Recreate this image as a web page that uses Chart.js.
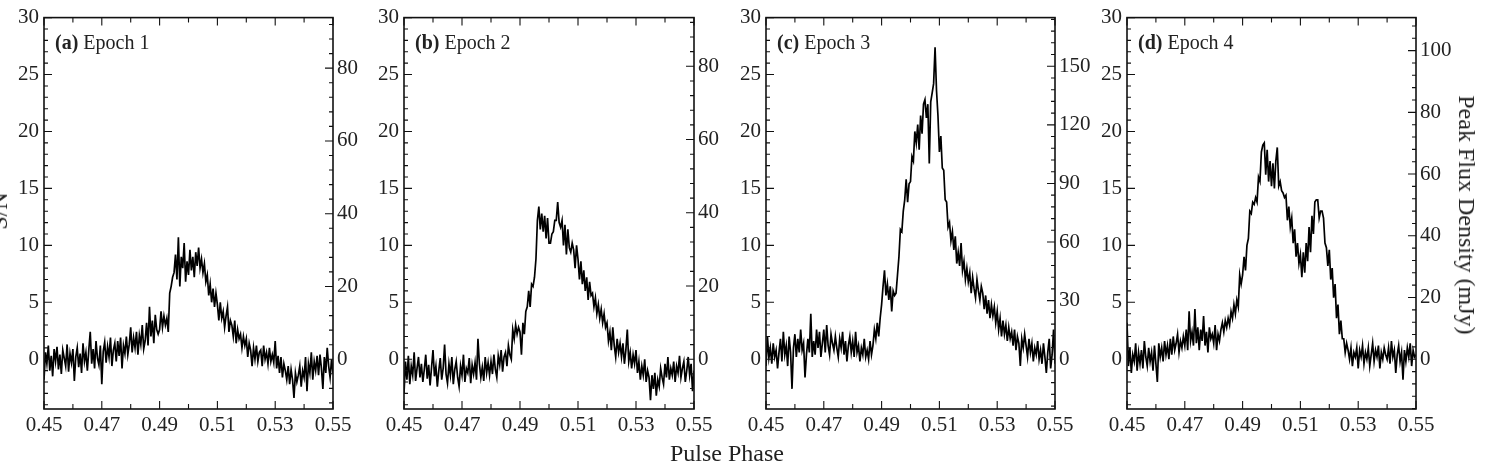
<!DOCTYPE html>
<html>
<head>
<meta charset="utf-8">
<script src="https://cdn.jsdelivr.net/npm/chart.js@4.4.1/dist/chart.umd.min.js"></script>
<style>
html,body{margin:0;padding:0;background:#fff;width:1494px;height:474px;overflow:hidden;}
#wrap{position:relative;width:1494px;height:474px;overflow:hidden;}
#wrap canvas{position:absolute;left:0;top:0;width:1494px;height:474px;}
.lbl{position:absolute;font-family:"Liberation Serif","Times New Roman",serif;color:#222;font-size:24px;line-height:24px;white-space:nowrap;}
</style>
</head>
<body>
<div id="wrap">
<canvas id="c0" width="1494" height="474"></canvas>
<canvas id="c1" width="1494" height="474"></canvas>
<canvas id="c2" width="1494" height="474"></canvas>
<canvas id="c3" width="1494" height="474"></canvas>
<div class="lbl" style="left:-1px;top:211px;transform:translate(-50%,-50%) rotate(-90deg);">S/N</div>
<div class="lbl" style="left:727px;top:441px;transform:translateX(-50%);">Pulse Phase</div>
<div class="lbl" style="left:1467px;top:215px;transform:translate(-50%,-50%) rotate(90deg);">Peak Flux Density (mJy)</div>
</div>
<script>
// ---------------- data ----------------
const PHASE_START = 0.45;
const PHASE_STEP = 0.0005;
const X_TICKS = [0.45, 0.47, 0.49, 0.51, 0.53, 0.55];
const SN_TICKS = [0, 5, 10, 15, 20, 25, 30];
const FLUX_TICKS_1 = [0, 20, 40, 60, 80];
const FLUX_TICKS_2 = [0, 20, 40, 60, 80];
const FLUX_TICKS_3 = [0, 30, 60, 90, 120, 150];
const FLUX_TICKS_4 = [0, 20, 40, 60, 80, 100];
const PANEL_LETTERS = ['(a)', '(b)', '(c)', '(d)'];
const PANEL_NAMES = ['Epoch 1', 'Epoch 2', 'Epoch 3', 'Epoch 4'];
const FLUX_PER_SN = [3.13, 3.11, 5.83, 3.69];

const SN_EPOCH1 = [
-1.8,0.6,-0.4,1.2,-1.0,0.3,-1.5,0.9,-0.2,1.1,
-0.9,0.4,-1.3,0.8,0.1,-0.6,1.3,-1.1,0.5,-0.3,
0.9,-1.9,0.2,1.0,-0.7,0.5,-1.2,1.4,-0.2,0.6,
-1.0,0.8,2.4,-0.4,0.9,-0.8,1.6,0.1,-0.5,1.2,
-2.2,0.7,1.5,-0.3,1.1,0.2,1.9,-0.6,0.8,1.4,
-0.2,1.6,0.3,1.9,-0.8,1.2,0.5,2.0,0.4,1.3,
2.8,0.6,1.9,1.0,2.4,0.4,2.1,1.3,3.0,0.9,
1.6,3.2,1.2,4.6,2.0,3.4,1.4,3.9,2.6,2.2,
2.6,4.2,2.8,3.8,3.0,3.6,2.4,5.8,6.4,7.2,
7.6,9.2,7.0,10.7,6.4,9.0,8.0,10.2,6.8,8.6,
7.4,9.6,7.8,9.0,7.2,9.4,8.2,9.8,8.0,8.8,
7.6,8.4,6.8,7.4,5.6,6.6,5.0,6.2,4.6,5.8,
4.8,3.4,5.0,3.6,4.2,2.8,3.8,4.6,2.4,3.4,
3.0,2.0,3.4,1.4,2.6,1.8,2.2,1.0,2.0,1.2,
1.8,0.2,1.4,0.8,-0.6,1.0,0.0,1.2,-0.2,0.6,
0.8,-0.6,1.2,0.0,0.6,-0.4,1.0,-0.2,0.4,-0.3,
1.6,-0.8,0.3,-1.2,0.2,-1.6,-0.4,-1.0,-1.8,-0.6,
-2.2,-0.9,-1.8,-3.4,-1.2,-2.0,-1.4,-0.6,-2.4,-1.0,
-1.6,0.2,-2.8,-0.4,-1.2,0.6,-1.8,-0.2,-1.0,0.3,
-1.4,0.4,-0.8,-2.6,0.2,-1.2,1.0,-0.6,-1.6,0.0,
-1.2];

const SN_EPOCH2 = [
-3.0,-0.2,-1.8,0.3,-2.2,-0.6,-1.4,0.6,-1.9,-0.8,
0.2,-1.6,-0.4,-2.0,-0.9,0.4,-1.7,-0.5,-2.3,-0.7,
0.8,-1.5,-0.6,-2.4,-1.0,0.1,-1.8,-0.8,1.3,-1.3,
-2.1,-0.4,-1.4,0.2,-2.2,-0.9,-0.2,-1.6,-2.4,-0.6,
-1.4,0.4,-2.0,-0.8,-1.2,0.1,-2.1,-0.5,-1.3,-0.3,
-1.8,1.8,-0.4,-1.6,-0.7,-1.9,0.2,-1.2,-0.3,-1.4,
-0.2,-1.3,0.4,-0.9,-1.6,0.3,-0.5,0.8,-1.1,0.2,
0.6,-0.6,1.2,0.4,0.0,2.6,1.8,3.0,2.2,2.8,
2.4,0.4,3.2,2.2,4.2,4.6,6.0,4.6,6.6,6.4,
7.2,8.8,12.2,13.4,11.4,12.8,11.2,12.6,10.6,12.4,
10.2,10.2,11.0,11.2,12.2,12.2,13.8,12.0,11.6,12.2,
10.0,11.8,9.2,11.4,9.8,9.4,10.2,9.6,8.0,10.0,
8.8,7.0,8.6,6.6,7.8,6.0,7.2,5.2,6.8,5.6,
5.8,4.6,5.4,4.0,4.8,3.6,4.4,3.2,4.0,2.8,
3.2,1.6,2.4,0.8,2.8,1.2,0.2,1.8,0.6,1.4,
0.2,1.4,-0.4,0.8,2.6,-0.2,0.6,-0.8,0.4,-0.4,
0.8,-1.2,-0.2,-1.8,-0.6,-1.4,0.0,-2.0,-1.0,-1.6,
-3.6,-1.4,-2.6,-1.2,-3.2,-1.8,-2.4,-0.8,-1.6,-2.2,
-0.4,-1.6,0.2,-1.8,-0.8,-1.4,-0.2,-2.0,-0.6,-1.2,
0.3,-1.6,-0.8,-0.2,-2.0,-1.0,0.2,-1.4,-0.4,-2.8,
-1.0];

const SN_EPOCH3 = [
-0.6,2.0,0.1,1.0,-0.4,1.4,0.2,0.8,-0.8,0.6,
1.8,-0.2,2.4,0.4,1.2,-0.6,2.0,0.6,-2.6,1.0,
2.2,0.2,1.8,0.6,2.6,0.8,1.4,-1.6,0.4,1.8,
0.6,4.0,0.2,1.6,0.4,2.6,1.0,2.4,0.2,1.4,
2.6,0.6,3.0,1.2,0.4,2.2,1.4,0.8,2.0,1.0,
0.2,1.8,1.0,2.4,0.4,1.6,-0.2,1.2,2.0,0.6,
1.6,0.2,2.4,0.6,1.2,-0.2,1.0,0.4,1.8,0.2,
0.8,0.0,1.6,0.4,1.2,2.6,1.8,3.2,2.0,3.6,
4.8,6.4,7.8,5.6,6.6,5.2,6.4,4.2,6.0,5.6,
5.8,7.4,9.0,11.4,11.2,13.0,14.0,15.8,13.8,15.4,
15.6,17.8,17.4,20.0,19.0,20.6,18.4,21.4,19.8,22.4,
22.8,21.2,22.4,17.2,22.6,23.4,24.2,27.4,23.6,21.4,
18.2,19.6,16.8,16.6,14.0,13.8,11.6,12.0,10.4,11.2,
9.6,10.8,8.4,9.4,8.2,10.2,7.8,8.6,7.0,8.0,
6.8,7.6,5.8,7.2,6.2,5.4,7.0,6.0,5.2,6.4,
5.8,4.4,5.6,4.0,5.2,3.6,4.8,3.8,4.6,3.2,
4.2,2.6,3.6,2.0,3.4,2.2,3.0,1.6,2.8,1.8,
2.4,1.2,2.6,0.8,2.0,1.4,-0.6,1.8,1.0,2.2,
1.2,0.2,1.8,0.6,1.4,-0.2,1.0,0.4,1.6,0.0,
0.8,-0.4,1.4,0.2,-1.2,0.6,1.8,-0.8,0.4,2.6,
-0.4];

const SN_EPOCH4 = [
3.2,-0.6,1.0,-1.2,0.4,-0.2,1.4,-1.0,0.6,-0.4,
0.8,-0.8,1.6,0.2,-0.6,1.0,-0.2,0.6,-1.0,1.2,
-0.4,-2.0,1.4,0.2,1.0,-0.2,1.6,0.4,1.2,0.0,
1.8,0.4,2.0,0.8,1.4,2.2,0.6,1.6,1.0,2.0,
1.2,2.6,0.8,4.2,1.6,2.4,1.2,4.4,1.4,2.8,
0.8,2.6,1.6,3.8,1.2,2.4,0.6,2.8,1.8,2.2,
1.4,3.0,0.8,2.2,1.6,2.6,3.2,2.4,3.4,2.8,
3.6,3.0,4.2,3.6,4.8,4.0,5.2,4.6,7.4,6.6,
7.4,9.0,7.8,10.0,10.6,13.0,12.8,13.8,13.6,14.2,
13.8,16.0,15.6,18.2,18.8,19.0,16.2,18.4,15.6,17.4,
15.2,17.2,15.0,17.4,18.6,15.2,15.6,14.8,14.6,14.2,
14.4,12.2,13.4,11.6,12.4,10.2,11.4,9.0,10.2,8.4,
9.2,7.2,9.4,7.6,10.2,8.6,11.6,9.4,12.6,11.0,
13.8,14.0,14.0,12.4,13.0,13.0,12.4,10.2,9.8,8.2,
9.6,7.0,8.0,5.4,6.6,3.6,4.8,2.2,3.4,1.8,
1.8,0.6,1.4,0.8,0.0,1.0,-0.6,0.6,0.2,1.0,
-0.8,0.8,0.2,1.2,-0.4,0.6,0.0,1.0,-0.6,0.4,
1.4,-0.2,0.8,0.2,1.2,-0.8,0.6,0.0,1.0,0.4,
0.0,1.0,-0.4,1.6,0.2,0.8,-1.2,0.4,1.2,-0.2,
0.6,-1.8,0.8,-0.2,1.0,0.2,1.4,-0.6,0.8,0.2,
0.4];

// ---------------- layout ----------------
const W = 1494, H = 474;
const PLOT_LEFT = [44, 404, 766, 1127];
const PLOT_RIGHT = [333, 694, 1055, 1416];
const PLOT_TOP = 16, PLOT_BOTTOM = 409;
const AXW = 40;
const SN_MIN = -4.37, SN_MAX = 30;
const FONT_FAMILY = '"Liberation Serif", "Times New Roman", serif';
const TEXT_COLOR = '#222';

const SERIES = [SN_EPOCH1, SN_EPOCH2, SN_EPOCH3, SN_EPOCH4];
const FLUX_TICKS = [FLUX_TICKS_1, FLUX_TICKS_2, FLUX_TICKS_3, FLUX_TICKS_4];
const FLUX_MINOR = [4, 4, 6, 4];
const FLUX_MAJOR = [20, 20, 30, 20];

const framePlugin = {
  id: 'frame',
  afterDatasetsDraw(chart, args, o) {
    const ctx = chart.ctx, a = chart.chartArea;
    const sx = chart.scales.x, sy = chart.scales.y, sr = chart.scales.y2;
    const eps = 1e-6;
    ctx.save();
    ctx.strokeStyle = '#111';
    ctx.lineWidth = 1.1;
    ctx.beginPath();
    for (let k = 0; k <= 10; k++) {
      const v = sx.min + k * 0.01;
      const px = sx.getPixelForValue(v);
      const len = (k % 2 === 0) ? 8 : 5;
      ctx.moveTo(px, a.bottom); ctx.lineTo(px, a.bottom - len);
      ctx.moveTo(px, a.top); ctx.lineTo(px, a.top + len);
    }
    for (let v = Math.ceil(sy.min); v <= sy.max + eps; v++) {
      const py = sy.getPixelForValue(v);
      const len = (Math.abs(v % 5) < eps) ? 8 : 4;
      ctx.moveTo(a.left, py); ctx.lineTo(a.left + len, py);
    }
    for (let v = Math.ceil(sr.min / o.rMinor) * o.rMinor; v <= sr.max + eps; v += o.rMinor) {
      const py = sr.getPixelForValue(v);
      const len = (Math.abs(v % o.rMajor) < eps) ? 8 : 4;
      ctx.moveTo(a.right, py); ctx.lineTo(a.right - len, py);
    }
    ctx.stroke();
    ctx.lineWidth = 1.6;
    ctx.strokeRect(a.left, a.top, a.right - a.left, a.bottom - a.top);
    ctx.fillStyle = TEXT_COLOR;
    ctx.textBaseline = 'alphabetic';
    ctx.textAlign = 'left';
    const lx = a.left + 11, ly = a.top + 31;
    ctx.font = 'bold 20px ' + FONT_FAMILY;
    ctx.fillText(o.letter, lx, ly);
    const w = ctx.measureText(o.letter).width + 5;
    ctx.font = '20px ' + FONT_FAMILY;
    ctx.fillText(o.name, lx + w, ly);
    ctx.restore();
  }
};

const tickFont = { family: FONT_FAMILY, size: 21 };

for (let p = 0; p < 4; p++) {
  const vals = SERIES[p];
  const pts = vals.map((v, i) => ({ x: PHASE_START + i * PHASE_STEP, y: v }));
  const k = FLUX_PER_SN[p];
  new Chart(document.getElementById('c' + p), {
    type: 'line',
    data: {
      datasets: [{
        data: pts,
        borderColor: '#000',
        borderWidth: 1.7,
        pointRadius: 0,
        tension: 0,
        fill: false
      }]
    },
    options: {
      responsive: false,
      animation: false,
      events: [],
      layout: {
        padding: {
          left: PLOT_LEFT[p] - AXW,
          right: W - PLOT_RIGHT[p] - AXW,
          top: PLOT_TOP,
          bottom: 0
        }
      },
      plugins: {
        legend: { display: false },
        tooltip: { enabled: false },
        frame: { letter: PANEL_LETTERS[p], name: PANEL_NAMES[p], rMinor: FLUX_MINOR[p], rMajor: FLUX_MAJOR[p] }
      },
      scales: {
        x: {
          type: 'linear',
          min: X_TICKS[0],
          max: X_TICKS[X_TICKS.length - 1],
          afterBuildTicks: s => { s.ticks = X_TICKS.map(v => ({ value: v })); },
          afterFit: s => { s.height = H - PLOT_BOTTOM; },
          grid: { display: false, drawTicks: false, tickLength: 0 },
          border: { display: false },
          ticks: { padding: 4, font: tickFont, color: TEXT_COLOR, maxRotation: 0, autoSkip: false,
                   callback: v => Number(v).toFixed(2) }
        },
        y: {
          type: 'linear',
          position: 'left',
          min: SN_MIN,
          max: SN_MAX,
          afterBuildTicks: s => { s.ticks = SN_TICKS.map(v => ({ value: v })); },
          afterFit: s => { s.width = AXW; },
          grid: { display: false, drawTicks: false, tickLength: 0 },
          border: { display: false },
          ticks: { padding: 5, font: tickFont, color: TEXT_COLOR, autoSkip: false,
                   callback: v => String(v) }
        },
        y2: {
          type: 'linear',
          position: 'right',
          min: SN_MIN * k,
          max: SN_MAX * k,
          afterBuildTicks: s => { s.ticks = FLUX_TICKS[p].map(v => ({ value: v })); },
          afterFit: s => { s.width = AXW; },
          grid: { display: false, drawTicks: false, tickLength: 0 },
          border: { display: false },
          ticks: { padding: 4, font: tickFont, color: TEXT_COLOR, autoSkip: false,
                   callback: v => String(v) }
        }
      }
    },
    plugins: [framePlugin]
  });
}
</script>
</body>
</html>
